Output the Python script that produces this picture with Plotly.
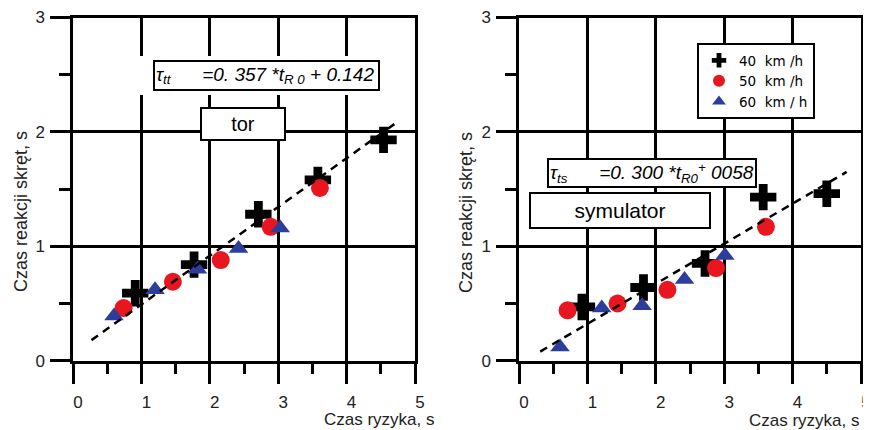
import plotly.graph_objects as go

# page body has an 8px margin: build the figure in page coordinates minus 8
OFF = 8
W, H = 871 - OFF, 430 - OFF

# ---- data: left panel (tor) ----
tor_x40 = [0.91, 1.77, 2.71, 3.58, 4.54]
tor_y40 = [0.59, 0.84, 1.28, 1.58, 1.93]
tor_x50 = [0.74, 1.46, 2.16, 2.89, 3.61]
tor_y50 = [0.46, 0.69, 0.88, 1.17, 1.51]
tor_x60 = [0.60, 1.20, 1.82, 2.42, 3.03]
tor_y60 = [0.39, 0.62, 0.80, 0.98, 1.16]
tor_fit_x = [0.27, 4.75]
tor_fit_y = [0.18, 2.09]

# ---- data: right panel (symulator) ----
sym_x40 = [0.92, 1.82, 2.72, 3.57, 4.50]
sym_y40 = [0.47, 0.64, 0.85, 1.43, 1.46]
sym_x50 = [0.71, 1.44, 2.17, 2.88, 3.61]
sym_y50 = [0.44, 0.50, 0.62, 0.81, 1.17]
sym_x60 = [0.60, 1.21, 1.80, 2.42, 3.01]
sym_y60 = [0.12, 0.46, 0.48, 0.71, 0.92]
sym_fit_x = [0.31, 4.79]
sym_fit_y = [0.08, 1.65]

series_names = ["40  km /h", "50  km /h", "60  km / h"]
x_ticks = [0, 1, 2, 3, 4, 5]
y_ticks = [0, 1, 2, 3]

FONT = "Liberation Sans, Arial, sans-serif"
RED = "#e8161e"
BLUE = "#2c3d9c"


def fx(x):
    return (x - OFF) / W


def fy(y):
    return 1 - (y - OFF) / H


fig = go.Figure()


def add_panel(xa, ya, x40, y40, x50, y50, x60, y60, lx, ly, legend):
    fig.add_trace(go.Scatter(x=x40, y=y40, mode="markers", name=series_names[0],
                             marker=dict(symbol="cross", size=22, color="black"),
                             xaxis=xa, yaxis=ya, showlegend=legend))
    fig.add_trace(go.Scatter(x=x50, y=y50, mode="markers", name=series_names[1],
                             marker=dict(symbol="circle", size=18, color=RED),
                             xaxis=xa, yaxis=ya, showlegend=legend))
    fig.add_trace(go.Scatter(x=x60, y=y60, mode="markers", name=series_names[2],
                             marker=dict(symbol="triangle-up", size=17, color=BLUE),
                             xaxis=xa, yaxis=ya, showlegend=legend))
    fig.add_trace(go.Scatter(x=lx, y=ly, mode="lines",
                             line=dict(color="black", width=2.5, dash="8px,6px"),
                             xaxis=xa, yaxis=ya, showlegend=False, hoverinfo="skip"))


add_panel("x", "y", tor_x40, tor_y40, tor_x50, tor_y50, tor_x60, tor_y60,
          tor_fit_x, tor_fit_y, False)
add_panel("x2", "y2", sym_x40, sym_y40, sym_x50, sym_y50, sym_x60, sym_y60,
          sym_fit_x, sym_fit_y, True)


def xaxis_cfg(dom, anchor):
    return dict(domain=dom, anchor=anchor, range=[0, 5], tickvals=x_ticks,
                showgrid=True, gridcolor="black", gridwidth=2.5, zeroline=False,
                showline=True, linecolor="black", linewidth=2.5, mirror=True,
                ticks="outside", ticklen=21, tickwidth=2.5, tickcolor="black",
                minor=dict(dtick=0.5, tick0=0, ticks="outside", ticklen=11,
                           tickwidth=2.5, tickcolor="black", showgrid=False),
                tickfont=dict(family=FONT, size=17, color="#222"),
                ticklabelshift=5, ticklabelstandoff=3, automargin=False, fixedrange=True)


def yaxis_cfg(anchor):
    return dict(domain=[fy(360.7), fy(17.5)], anchor=anchor, range=[0, 3],
                tickvals=y_ticks,
                showgrid=True, gridcolor="black", gridwidth=2.5, zeroline=False,
                showline=True, linecolor="black", linewidth=2.5, mirror=True,
                ticks="outside", ticklen=20, tickwidth=2.5, tickcolor="black",
                minor=dict(dtick=0.5, tick0=0, ticks="outside", ticklen=11,
                           tickwidth=2.5, tickcolor="black", showgrid=False),
                tickfont=dict(family=FONT, size=17, color="#222"),
                ticklabelstandoff=2, automargin=False, fixedrange=True)


fig.update_layout(
    width=W, height=H,
    margin=dict(l=0, r=0, t=0, b=0),
    paper_bgcolor="white", plot_bgcolor="white",
    xaxis=xaxis_cfg([fx(73), fx(415)], "y"),
    yaxis=yaxis_cfg("x"),
    xaxis2=xaxis_cfg([fx(519), fx(861)], "y2"),
    yaxis2=yaxis_cfg("x2"),
    legend=dict(x=fx(697), y=fy(43), xanchor="left", yanchor="top",
                bordercolor="black", borderwidth=2, bgcolor="white",
                font=dict(family="DejaVu Sans, sans-serif", size=13.5, color="black"),
                tracegroupgap=0, itemsizing="constant", itemwidth=30),
    showlegend=True,
)

annots = []
# axis titles
for xr, yc in [(437, 419), (862, 420)]:
    annots.append(dict(text="Czas ryzyka, s", x=fx(xr), y=fy(yc), xref="paper", yref="paper",
                       xanchor="right", yanchor="middle", showarrow=False,
                       font=dict(family=FONT, size=17, color="#222")))
for xc, yc in [(21, 212), (466, 213)]:
    annots.append(dict(text="Czas reakcji skręt, s", x=fx(xc), y=fy(yc), xref="paper",
                       yref="paper", xanchor="center", yanchor="middle", showarrow=False,
                       textangle=-90, font=dict(family=FONT, size=18, color="#222")))


def box(text, x0, x1, y0, y1, size, italic=False, align="center"):
    annots.append(dict(text=text, x=fx((x0 + x1) / 2), y=fy((y0 + y1) / 2),
                       xref="paper", yref="paper",
                       xanchor="center", yanchor="middle", showarrow=False,
                       width=x1 - x0 - 6, height=y1 - y0 - 6, align=align, valign="middle",
                       bordercolor="black", borderwidth=2, borderpad=1, bgcolor="white",
                       font=dict(family=FONT, size=size, color="black",
                                 style="italic" if italic else "normal")))


box("τ<sub>tt</sub>      =0. 357 *t<sub>R 0</sub> + 0.142", 153, 380, 60, 91, 19, True, "left")
box("tor", 200, 286, 107, 141, 20)
box("τ<sub>ts</sub>      =0. 300 *t<sub>R0</sub><sup>+</sup> 0058", 547, 757, 158, 188, 19,
    True, "left")
box("symulator", 529, 711, 192, 229, 21)

fig.update_layout(annotations=annots)

# white halo around the left equation box
fig.add_shape(type="rect", xref="paper", yref="paper", x0=fx(136), x1=fx(384),
              y0=fy(95), y1=fy(56), fillcolor="white", line=dict(width=0), layer="above")

fig.write_html("out.html")
